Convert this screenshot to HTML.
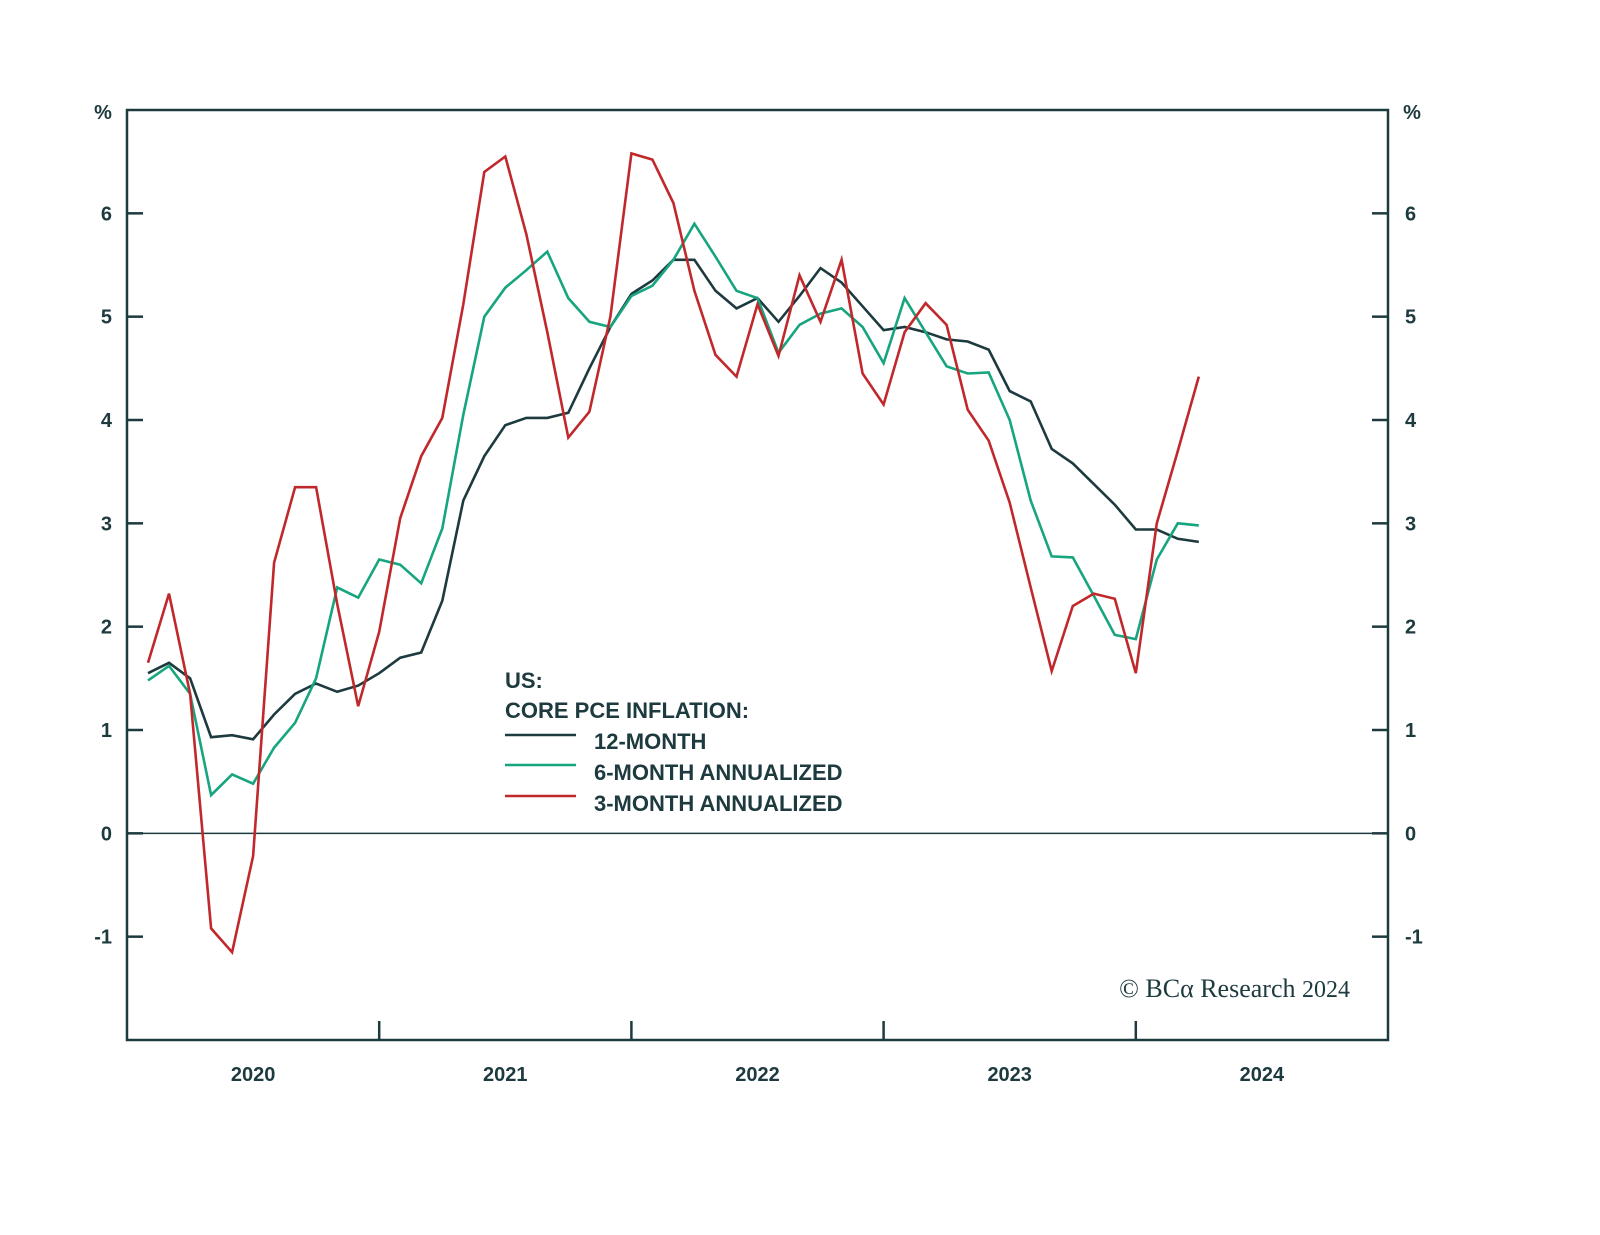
<!DOCTYPE html>
<html><head><meta charset="utf-8"><style>
html,body{margin:0;padding:0;background:#fff;}
svg{display:block;}
text{font-family:"Liberation Sans",sans-serif;fill:#1d3a3f;}
</style></head><body>
<svg id="chart" width="1600" height="1235" viewBox="0 0 1600 1235">
<g id="axes"></g>
<g id="series"></g>
<g>
<text x="505" y="688" font-size="22" font-weight="bold">US:</text>
<text x="505" y="718" font-size="22" font-weight="bold">CORE PCE INFLATION:</text>
<line x1="505" y1="735" x2="576" y2="735" stroke="#1d3a3f" stroke-width="2.5"/>
<text x="594" y="749" font-size="22" font-weight="bold">12-MONTH</text>
<line x1="505" y1="765" x2="576" y2="765" stroke="#17a57f" stroke-width="2.5"/>
<text x="594" y="780" font-size="22" font-weight="bold">6-MONTH ANNUALIZED</text>
<line x1="505" y1="796" x2="576" y2="796" stroke="#c0282c" stroke-width="2.5"/>
<text x="594" y="811" font-size="22" font-weight="bold">3-MONTH ANNUALIZED</text>
</g>
<text x="1350" y="997" text-anchor="end" font-size="26" style="font-family:'Liberation Serif',serif">© BCα Research <tspan font-size="24">2024</tspan></text>
</svg>
<script>
const years = ["2020","2021","2022","2023","2024"];
const yTicks = [-1,0,1,2,3,4,5,6];
const m12 = [1.55,1.65,1.5,0.93,0.95,0.91,1.15,1.35,1.45,1.37,1.43,1.55,1.7,1.75,2.25,3.22,3.65,3.95,4.02,4.02,4.07,4.5,4.9,5.22,5.35,5.55,5.55,5.25,5.08,5.18,4.95,5.2,5.47,5.33,5.1,4.87,4.9,4.85,4.78,4.76,4.68,4.28,4.18,3.72,3.58,3.38,3.18,2.94,2.94,2.85,2.82];
const m6 = [1.48,1.62,1.35,0.37,0.57,0.48,0.83,1.07,1.5,2.38,2.28,2.65,2.6,2.42,2.95,4.05,5.0,5.28,5.45,5.63,5.18,4.95,4.9,5.2,5.3,5.55,5.9,5.58,5.25,5.18,4.65,4.92,5.03,5.08,4.9,4.55,5.18,4.85,4.52,4.45,4.46,4.0,3.22,2.68,2.67,2.3,1.92,1.88,2.65,3.0,2.98];
const m3 = [1.65,2.32,1.35,-0.92,-1.15,-0.22,2.62,3.35,3.35,2.22,1.23,1.95,3.05,3.65,4.02,5.12,6.4,6.55,5.8,4.85,3.83,4.08,5.0,6.58,6.52,6.1,5.25,4.63,4.42,5.12,4.62,5.4,4.95,5.55,4.45,4.15,4.85,5.13,4.92,4.1,3.8,3.2,2.38,1.57,2.2,2.32,2.27,1.55,3.0,3.7,4.42];

const L=127,R=1388,T=110,B=1040;
const yMin=-2,yMax=7;
const yScale=v=>B-(v-yMin)/(yMax-yMin)*(B-T);
const monthW=(R-L)/60;
const xScale=i=>L+(i+1)*monthW;
const NS="http://www.w3.org/2000/svg";
const axes=document.getElementById('axes'), series=document.getElementById('series');
function mk(tag,attrs,parent){const e=document.createElementNS(NS,tag);for(const k in attrs)e.setAttribute(k,attrs[k]);parent.appendChild(e);return e;}

const frame=mk('rect',{x:L,y:T,width:R-L,height:B-T,fill:'none',stroke:'#1d3a3f','stroke-width':2.5},axes);


const zl=mk('line',{x1:L,x2:R,y1:yScale(0),y2:yScale(0),stroke:'#1d3a3f','stroke-width':1.5},axes);


yTicks.forEach(v=>{
  const y=yScale(v);
  mk('line',{x1:L,x2:L+16,y1:y,y2:y,stroke:'#1d3a3f','stroke-width':2.5},axes);
  mk('line',{x1:R-16,x2:R,y1:y,y2:y,stroke:'#1d3a3f','stroke-width':2.5},axes);
  const a=mk('text',{x:112,y:y+7,'text-anchor':'end','font-size':20,'font-weight':'bold'},axes);a.textContent=v;
  
  
  const b=mk('text',{x:1405,y:y+7,'font-size':20,'font-weight':'bold'},axes);b.textContent=v;
  
  
});
const p1=mk('text',{x:103,y:119,'text-anchor':'middle','font-size':20,'font-weight':'bold'},axes);p1.textContent='%';


const p2=mk('text',{x:1412,y:119,'text-anchor':'middle','font-size':20,'font-weight':'bold'},axes);p2.textContent='%';


years.forEach((yr,k)=>{
  const x0=L+k*12*monthW;
  if(k>0) mk('line',{x1:x0,x2:x0,y1:B,y2:B-19,stroke:'#1d3a3f','stroke-width':2.5},axes);
  const t=mk('text',{x:x0+6*monthW,y:1081,'text-anchor':'middle','font-size':20,'font-weight':'bold'},axes);t.textContent=yr;
  
  
});
function line(data,color,name){
  const d=data.map((v,i)=>(i?'L':'M')+xScale(i).toFixed(1)+' '+yScale(v).toFixed(1)).join(' ');
  const p=mk('path',{d:d,fill:'none',stroke:color,'stroke-width':2.6,'stroke-linejoin':'miter'},series);
  
  
}
line(m12,'#1d3a3f','series-12-month');
line(m6,'#17a57f','series-6-month');
line(m3,'#c0282c','series-3-month');
</script>
</body></html>
